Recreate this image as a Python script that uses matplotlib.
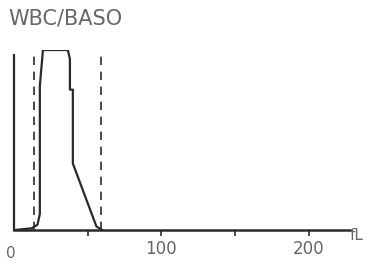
import matplotlib.pyplot as plt

# WBC/BASO histogram (volume in fL, relative count)
fl = [0, 12, 16, 17.6, 17.6, 19.7, 36.6, 38, 38, 40, 40, 56, 60]
count = [0, 1, 3, 9, 80, 100, 100, 95, 78, 78, 37, 2, 0]
discriminators = [13.5, 59]
tick_pos = [100, 200]
tick_labels = ['100', '200']
minor_pos = [50, 150]

ink = '#2a2a2a'
txt = '#666666'
plt.rcParams['font.family'] = ['DejaVu Sans']

fig = plt.figure(figsize=(3.66, 2.66), dpi=100)
ax = fig.add_axes([0.038, 0.135, 0.918, 0.677])

ax.plot(fl, count, color=ink, lw=1.6)
for d in discriminators:
    ax.axvline(d, ymin=0, ymax=0.97, color=ink, lw=1.2, ls=(0, (5, 4)))

ax.set_xlim(0, 228)
ax.set_ylim(0, 100)
for s in ['top', 'right']:
    ax.spines[s].set_visible(False)
ax.spines['left'].set_bounds(0, 97)
ax.spines['left'].set_color(ink)
ax.spines['bottom'].set_color(ink)
ax.spines['left'].set_linewidth(1.6)
ax.spines['bottom'].set_linewidth(1.8)

ax.set_yticks([])
ax.set_xticks(tick_pos)
ax.set_xticklabels(tick_labels, fontsize=12, color=txt)
ax.set_xticks(minor_pos, minor=True)
ax.tick_params(axis='x', which='both', direction='out', length=4, width=1.2,
               color=ink, pad=3)

ax.text(-2, -9, '0', fontsize=11, color=txt, ha='center', va='top')
ax.text(228, 1, 'fL', fontsize=11, color=txt, ha='left', va='top')
fig.text(0.022, 0.93, 'WBC/BASO', fontsize=15, color=txt, ha='left', va='center')

plt.savefig('out.png', dpi=100)
